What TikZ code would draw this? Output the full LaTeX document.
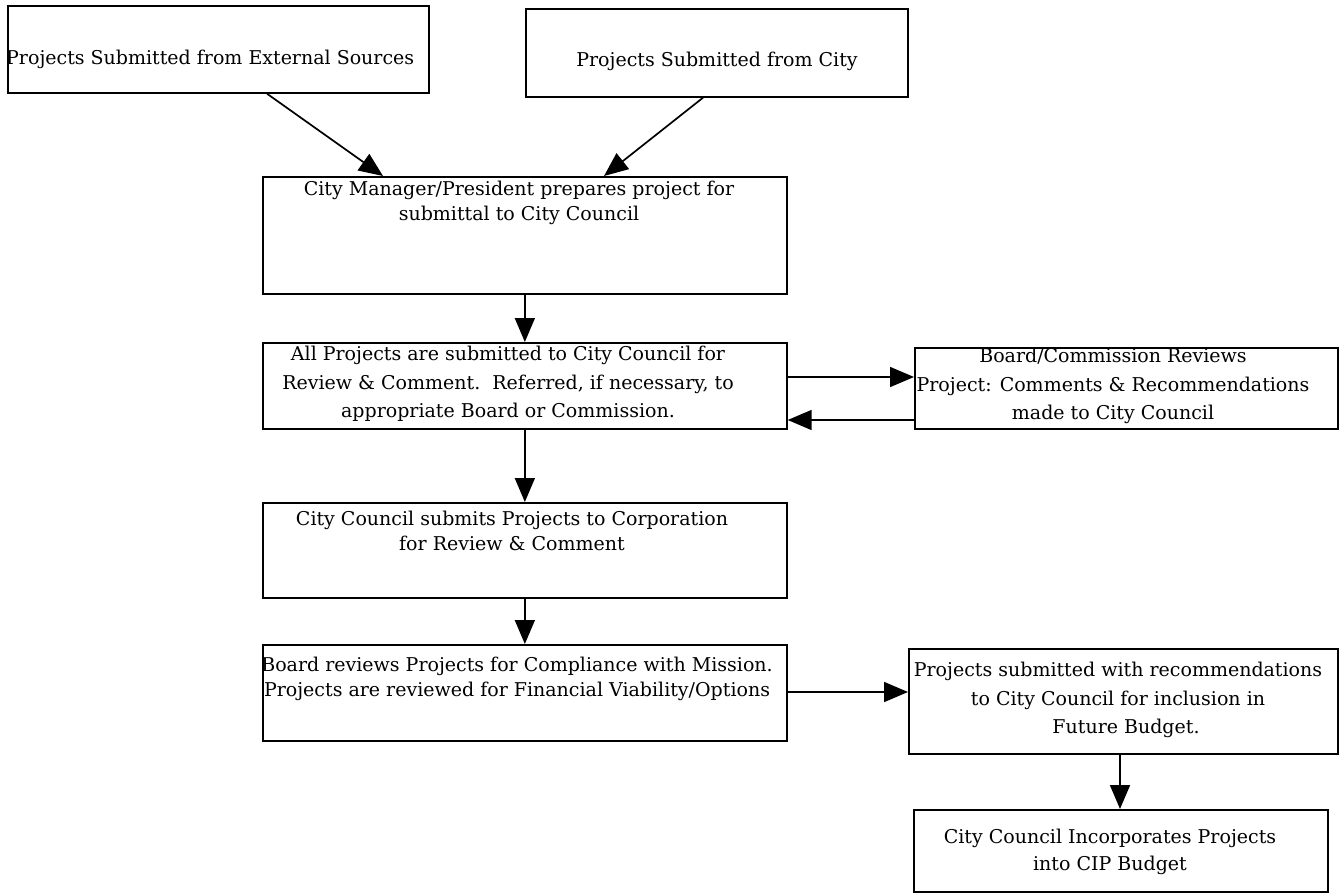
\documentclass[tikz,border=0pt]{standalone}
\usepackage{fontspec}
\setmainfont{DejaVu Serif}
\usetikzlibrary{arrows.meta,calc}
\begin{document}
\begin{tikzpicture}[x=1pt,y=-1pt,
  box/.style={draw,line width=1.7pt,inner sep=0pt,anchor=north west},
  txt/.style={inner sep=0pt,anchor=north,align=center,font=\fontsize{19}{28.5}\selectfont},
  tight/.style={font=\fontsize{19}{24.5}\selectfont},
  arr/.style={line width=1.7pt,-{Triangle[length=24pt,width=20pt]}}]
\useasboundingbox[fill=white] (0,0) rectangle (1343,894);
% boxes
\node[box,minimum width=421pt,minimum height=87pt] (b1) at (7,5) {};
\node[box,minimum width=382pt,minimum height=88pt] (b2) at (525,8) {};
\node[box,minimum width=524pt,minimum height=117pt] (b3) at (262,176) {};
\node[box,minimum width=524pt,minimum height=86pt] (b4) at (262,342) {};
\node[box,minimum width=423pt,minimum height=81pt] (bd) at (914,347) {};
\node[box,minimum width=524pt,minimum height=95pt] (b5) at (262,502) {};
\node[box,minimum width=524pt,minimum height=96pt] (b6) at (262,644) {};
\node[box,minimum width=429pt,minimum height=105pt] (b7) at (908,648) {};
\node[box,minimum width=414pt,minimum height=82pt] (b8) at (913,809) {};
% texts
\node[txt,anchor=north west,align=left] (t1) at (6,50) {Projects Submitted from External Sources};
\node[txt] (t2) at (717,52) {Projects Submitted from City};
\node[txt,tight] (t3) at (519,181) {City Manager/President prepares project for\\submittal to City Council};
\node[txt] (t4) at (508,346) {All Projects are submitted to City Council for\\Review \& Comment.\ \ Referred, if necessary, to\\appropriate Board or Commission.};
\node[txt] (td) at (1113,348) {Board/Commission Reviews\\Project: Comments \& Recommendations\\made to City Council};
\node[txt,tight] (t5) at (512,511) {City Council submits Projects to Corporation\\for Review \& Comment};
\node[txt,tight] (t6) at (517,657) {Board reviews Projects for Compliance with Mission.\\Projects are reviewed for Financial Viability/Options};
\node[txt] (t7) at (1118,662) {Projects submitted with recommendations\\to City Council for inclusion in\hspace*{36pt}\\\hspace*{16pt}Future Budget.};
\node[txt,font=\fontsize{19}{26.5}\selectfont] (t8) at (1110,829) {City Council Incorporates Projects\\into CIP Budget};
% connectors
\coordinate (r1) at (0,377);
\coordinate (r2) at (0,420);
\coordinate (r3) at (0,692);
\coordinate (c8) at (1120,0);
\draw[arr] ($(b1.south west)+(260,0)$) -- ($(b3.north west)+(121,0)$);
\draw[arr] ($(b2.south west)+(178,0)$) -- ($(b3.north west)+(342,0)$);
\draw[arr] (b3.south) -- (b4.north);
\draw[arr] (b4.east |- r1) -- (bd.west |- r1);
\draw[arr] (bd.west |- r2) -- (b4.east |- r2);
\draw[arr] (b4.south) -- (b5.north);
\draw[arr] (b5.south) -- (b6.north);
\draw[arr] (b6.east |- r3) -- (b7.west |- r3);
\draw[arr] (c8 |- b7.south) -- (c8 |- b8.north);
\end{tikzpicture}
\end{document}
